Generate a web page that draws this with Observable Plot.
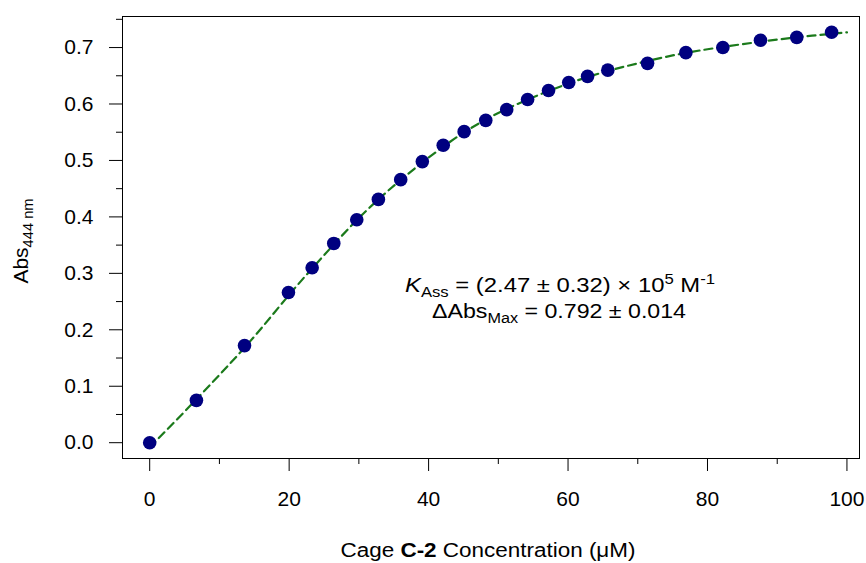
<!DOCTYPE html>
<html><head><meta charset="utf-8">
<script src="https://cdn.jsdelivr.net/npm/d3@7"></script>
<script src="https://cdn.jsdelivr.net/npm/@observablehq/plot@0.6"></script>
<style>body{margin:0;background:#fff}</style>
</head><body><div id="chart"></div>
<script>
// Measured points: cage C-2 concentration (µM) vs Abs at 444 nm
const concentration = [0, 6.7, 13.6, 19.9, 23.3, 26.4, 29.7, 32.8, 36.0, 39.1, 42.1, 45.1, 48.2, 51.2, 54.2, 57.2, 60.1, 62.8, 65.7, 71.4, 76.9, 82.2, 87.6, 92.8, 97.8];
const absorbance = [0.000, 0.075, 0.172, 0.266, 0.310, 0.353, 0.395, 0.431, 0.466, 0.498, 0.527, 0.551, 0.571, 0.590, 0.608, 0.624, 0.638, 0.649, 0.660, 0.672, 0.691, 0.700, 0.713, 0.718, 0.727];
// Fitted binding curve
const fitConcentration = [0, 5, 10, 15, 20, 25, 30, 35, 40, 45, 50, 55, 60, 65, 70, 75, 80, 85, 90, 95, 100];
const fitAbsorbance = [-0.008, 0.055, 0.120, 0.188, 0.262, 0.332, 0.398, 0.455, 0.505, 0.549, 0.584, 0.612, 0.636, 0.656, 0.672, 0.686, 0.697, 0.706, 0.714, 0.721, 0.727];
// Ticks
const xTicks = [0, 20, 40, 60, 80, 100];
const xMinorTicks = [10, 30, 50, 70, 90];
const yTicks = [0, 0.1, 0.2, 0.3, 0.4, 0.5, 0.6, 0.7];
const yMinorTicks = [0.05, 0.15, 0.25, 0.35, 0.45, 0.55, 0.65, 0.75];

const points = concentration.map((c, i) => ({c, a: absorbance[i]}));
const fit = fitConcentration.map((c, i) => ({c, a: fitAbsorbance[i]}));

const font = "Arial, 'Liberation Sans', sans-serif";
const plot = Plot.plot({
  width: 866, height: 563,
  marginLeft: 122, marginRight: 7, marginTop: 16, marginBottom: 105,
  style: {fontFamily: font, fontSize: "21px", color: "#000", background: "#fff"},
  x: {domain: [-3.9, 101.8]},
  y: {domain: [-0.028, 0.755]},
  marks: [
    Plot.frame({stroke: "#000"}),
    Plot.axisX(xTicks, {tickSize: 13, tickPadding: 20, tickFormat: d => String(d), label: null}),
    Plot.axisX(xMinorTicks, {tickSize: 6, tickFormat: () => "", label: null}),
    Plot.axisY(yTicks, {tickSize: 13, tickPadding: 16, tickFormat: d => d.toFixed(1), label: null}),
    Plot.axisY(yMinorTicks, {tickSize: 6, tickFormat: () => "", label: null}),
    Plot.line(fit, {x: "c", y: "a", stroke: "#1b7a1b", strokeWidth: 2.2, strokeDasharray: "8,5", curve: "natural"}),
    Plot.dot(points, {x: "c", y: "a", r: 6.8, fill: "#000080", stroke: "none"})
  ]
});
document.getElementById("chart").appendChild(plot);

const svg = d3.select(plot);
const g = svg.append("g").attr("font-family", font).attr("fill", "#000").attr("font-size", 20);

// x axis title
const xt = g.append("text").attr("x", 488).attr("y", 557).attr("text-anchor", "middle")
  .attr("textLength", 295).attr("lengthAdjust", "spacingAndGlyphs");
xt.append("tspan").text("Cage ");
xt.append("tspan").attr("font-weight", "bold").text("C-2");
xt.append("tspan").text(" Concentration (\u03BCM)");

// y axis title
const yt = g.append("text").attr("transform", "translate(28,241) rotate(-90)").attr("text-anchor", "middle")
  .attr("textLength", 85).attr("lengthAdjust", "spacingAndGlyphs");
yt.append("tspan").text("Abs");
yt.append("tspan").attr("font-size", 14).attr("dy", 5).text("444 nm");

// annotation
const a1 = g.append("text").attr("x", 560).attr("y", 292).attr("text-anchor", "middle")
  .attr("textLength", 310).attr("lengthAdjust", "spacingAndGlyphs");
a1.append("tspan").attr("font-style", "italic").text("K");
a1.append("tspan").attr("font-size", 14).attr("dy", 5).text("Ass");
a1.append("tspan").attr("dy", -5).text(" = (2.47 \u00B1 0.32) \u00D7 10");
a1.append("tspan").attr("font-size", 14).attr("dy", -8).text("5");
a1.append("tspan").attr("dy", 8).text(" M");
a1.append("tspan").attr("font-size", 14).attr("dy", -8).text("-1");

const a2 = g.append("text").attr("x", 559).attr("y", 318).attr("text-anchor", "middle")
  .attr("textLength", 254).attr("lengthAdjust", "spacingAndGlyphs");
a2.append("tspan").text("\u0394Abs");
a2.append("tspan").attr("font-size", 14).attr("dy", 5).text("Max");
a2.append("tspan").attr("dy", -5).text(" = 0.792 \u00B1 0.014");
</script>
</body></html>
